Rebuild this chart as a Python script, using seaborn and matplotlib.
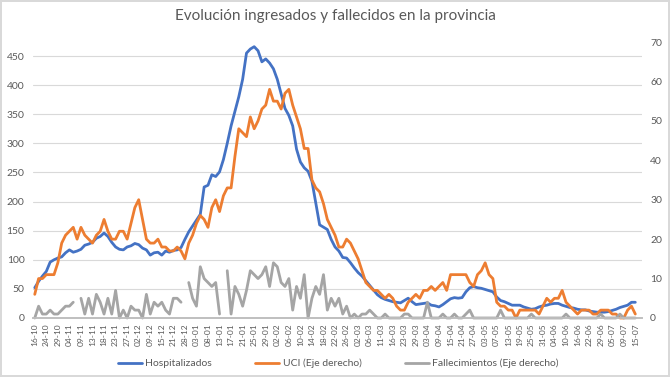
#!/usr/bin/env python3
# Evolucion ingresados y fallecidos en la provincia

import numpy as np
import pandas as pd
import matplotlib
matplotlib.use('Agg')
import matplotlib.pyplot as plt
from matplotlib.lines import Line2D
import seaborn as sns

sns.set_theme(style='white')
plt.rcParams['font.family'] = ['Lato', 'DejaVu Sans']

# tick labels (one every 3 data points)
fechas = ['16-10', '24-10', '29-10', '04-11', '09-11', '13-11', '18-11', '23-11', '27-11',
          '02-12', '09-12', '15-12', '21-12', '28-12', '03-01', '08-01', '13-01', '17-01',
          '21-01', '25-01', '29-01', '02-02', '06-02', '10-02', '14-02', '18-02', '22-02',
          '26-02', '02-03', '06-03', '11-03', '16-03', '23-03', '29-03', '03-04', '09-04',
          '15-04', '21-04', '27-04', '03-05', '07-05', '13-05', '19-05', '25-05', '31-05',
          '04-06', '10-06', '16-06', '22-06', '29-06', '05-07', '09-07', '15-07']

hospitalizados = [52, 63, 72, 80, 96, 100, 103, 105, 112, 117, 113, 115, 118, 125, 127, 130,
                  137, 140, 146, 140, 130, 122, 118, 117, 122, 124, 128, 126, 120, 117, 108,
                  112, 113, 108, 115, 113, 116, 117, 121, 135, 148, 158, 168, 178, 225, 228,
                  246, 243, 251, 272, 300, 330, 355, 380, 410, 455, 462, 466, 459, 440, 445,
                  438, 428, 410, 385, 360, 348, 330, 290, 268, 258, 252, 235, 198, 160, 156,
                  152, 135, 122, 115, 104, 103, 95, 86, 78, 72, 64, 56, 48, 40, 35, 32, 30,
                  28, 27, 26, 30, 34, 28, 23, 24, 25, 26, 22, 21, 19, 23, 28, 33, 35, 34, 35,
                  45, 52, 54, 52, 51, 49, 47, 45, 36, 30, 28, 25, 22, 22, 22, 19, 17, 15, 16,
                  19, 21, 22, 24, 25, 25, 22, 20, 18, 17, 15, 14, 14, 12, 11, 10, 10, 10, 11,
                  13, 15, 18, 20, 22, 27, 27]

uci = [6, 10, 10, 11, 11, 11, 14, 19, 21, 22, 23, 20, 23, 21, 20, 19, 21, 22, 25, 22,
       20, 20, 22, 22, 20, 24, 28, 30, 25, 20, 19, 19, 20, 18, 18, 17, 17, 18, 17, 15,
       19, 21, 24, 26, 25, 23, 28, 30, 27, 31, 33, 33, 41, 48, 47, 46, 51, 48, 50, 53,
       54, 58, 55, 55, 53, 57, 58, 54, 51, 48, 43, 43, 35, 33, 32, 29, 25, 23, 21, 18,
       18, 20, 19, 17, 15, 12, 9, 8, 7, 7, 6, 5, 6, 5, 3, 2, 2, 4, 5, 6,
       5, 7, 7, 8, 7, 8, 9, 7, 11, 11, 11, 11, 11, 9, 8, 11, 12, 14, 11, 10,
       4, 3, 3, 2, 2, 0, 2, 2, 2, 2, 2, 1, 3, 5, 4, 5, 5, 7, 4, 3,
       2, 1, 2, 2, 2, 1, 1, 2, 2, 2, 1, 1, 0, 0, 2, 3, 1]

fallecimientos = [0, 3, 1, 1, 2, 1, 1, 2, 3, 3, 4, np.nan, 5, 1, 5, 1, 6, 4, 1, 5,
                  1, 7, 0, 2, 0, 3, 2, 2, 0, 6, 1, 4, 3, 4, 2, 1, 5, 5, 4, np.nan,
                  9, 5, 3, 13, 10, 9, 8, 9, 1, np.nan, 12, 1, 8, 6, 3, 7, 12, 11, 10, 11,
                  13, 8, 14, 13, 9, 8, 10, 2, 8, 5, 11, 0, 5, 8, 6, 11, 2, 5, 3, 5,
                  1, 3, 0, 1, 0, 1, 1, 2, 1, 0, 0, 1, 0, 0, 0, 0, 1, 1, 0, 0,
                  0, 0, 4, 0, 0, 0, 1, 0, 0, 1, 0, 0, 1, 2, 0, 0, 0, 0, 0, 0,
                  0, 2, 0, 0, 0, 0, 0, 0, 0, 1, 0, 0, 0, 0, 0, 0, 0, 0, 1, 0,
                  0, 0, 0, 0, 0, 0, 0, 1, 0, 0, 0, 0, 1, 0, 0, 0, 0]

AZUL = '#4472C4'
NARANJA = '#ED7D31'
GRIS = '#A5A5A5'
TEXTO = '#595959'

df = pd.DataFrame({'dia': np.arange(len(hospitalizados)),
                   'hosp': hospitalizados, 'uci': uci, 'fall': fallecimientos})

fig = plt.figure(figsize=(6.7, 3.77), dpi=100)
fig.patch.set_edgecolor('#D9D9D9')
fig.patch.set_linewidth(1.5)
ax = fig.add_axes([0.049, 0.1565, 0.909, 0.732])
ax2 = ax.twinx()

sns.lineplot(data=df, x='dia', y='hosp', ax=ax, color=AZUL, linewidth=2,
             errorbar=None, legend=False, clip_on=False)
sns.lineplot(data=df, x='dia', y='uci', ax=ax2, color=NARANJA, linewidth=2,
             errorbar=None, legend=False, clip_on=False)

# fallecimientos has gaps: draw each run separately
ok = df['fall'].notna()
grupo = df['fall'].isna().cumsum()
for _, tramo in df[ok].groupby(grupo[ok]):
    sns.lineplot(data=tramo, x='dia', y='fall', ax=ax2, color=GRIS, linewidth=2,
                 errorbar=None, legend=False, clip_on=False)

ax.set_xlim(-0.5, 157.7)
ax.set_ylim(0, 474)
ax2.set_ylim(0, 70)
ax.set_yticks(range(0, 451, 50))
ax2.set_yticks(range(0, 71, 10))
ax.set_xticks(np.arange(0, len(hospitalizados), 3))
ax.set_xticklabels(fechas, rotation=90, fontsize=6, color=TEXTO)
ax.set_xticks(np.arange(len(hospitalizados)), minor=True)
ax.set_xlabel('')
ax.set_ylabel('')
ax2.set_ylabel('')

ax.grid(axis='y', color='#D9D9D9', linewidth=0.8)
ax2.grid(False)
for a in (ax, ax2):
    for s in ('top', 'left', 'right'):
        a.spines[s].set_visible(False)
    a.spines['bottom'].set_color('#BFBFBF')
    a.tick_params(axis='y', length=0, labelsize=7.5, labelcolor=TEXTO)
ax.tick_params(axis='y', pad=6)
ax2.tick_params(axis='y', pad=6)
ax.tick_params(axis='x', which='both', direction='out', length=3, width=0.6,
               color='#BFBFBF', pad=1)
ax.tick_params(axis='x', which='minor', length=2)

fig.suptitle('Evolución ingresados y fallecidos en la provincia', y=0.975,
             fontsize=11, color=TEXTO)

handles = [Line2D([], [], color=AZUL, lw=2),
           Line2D([], [], color=NARANJA, lw=2),
           Line2D([], [], color=GRIS, lw=2)]
fig.legend(handles, ['Hospitalizados', 'UCI (Eje derecho)', 'Fallecimientos (Eje derecho)'],
           loc='center', bbox_to_anchor=(0.505, 0.036), ncol=3, frameon=False,
           fontsize=7.5, labelcolor=TEXTO, handlelength=2.3, columnspacing=4.2,
           handletextpad=0.3)

fig.savefig('out.png', dpi=100)
